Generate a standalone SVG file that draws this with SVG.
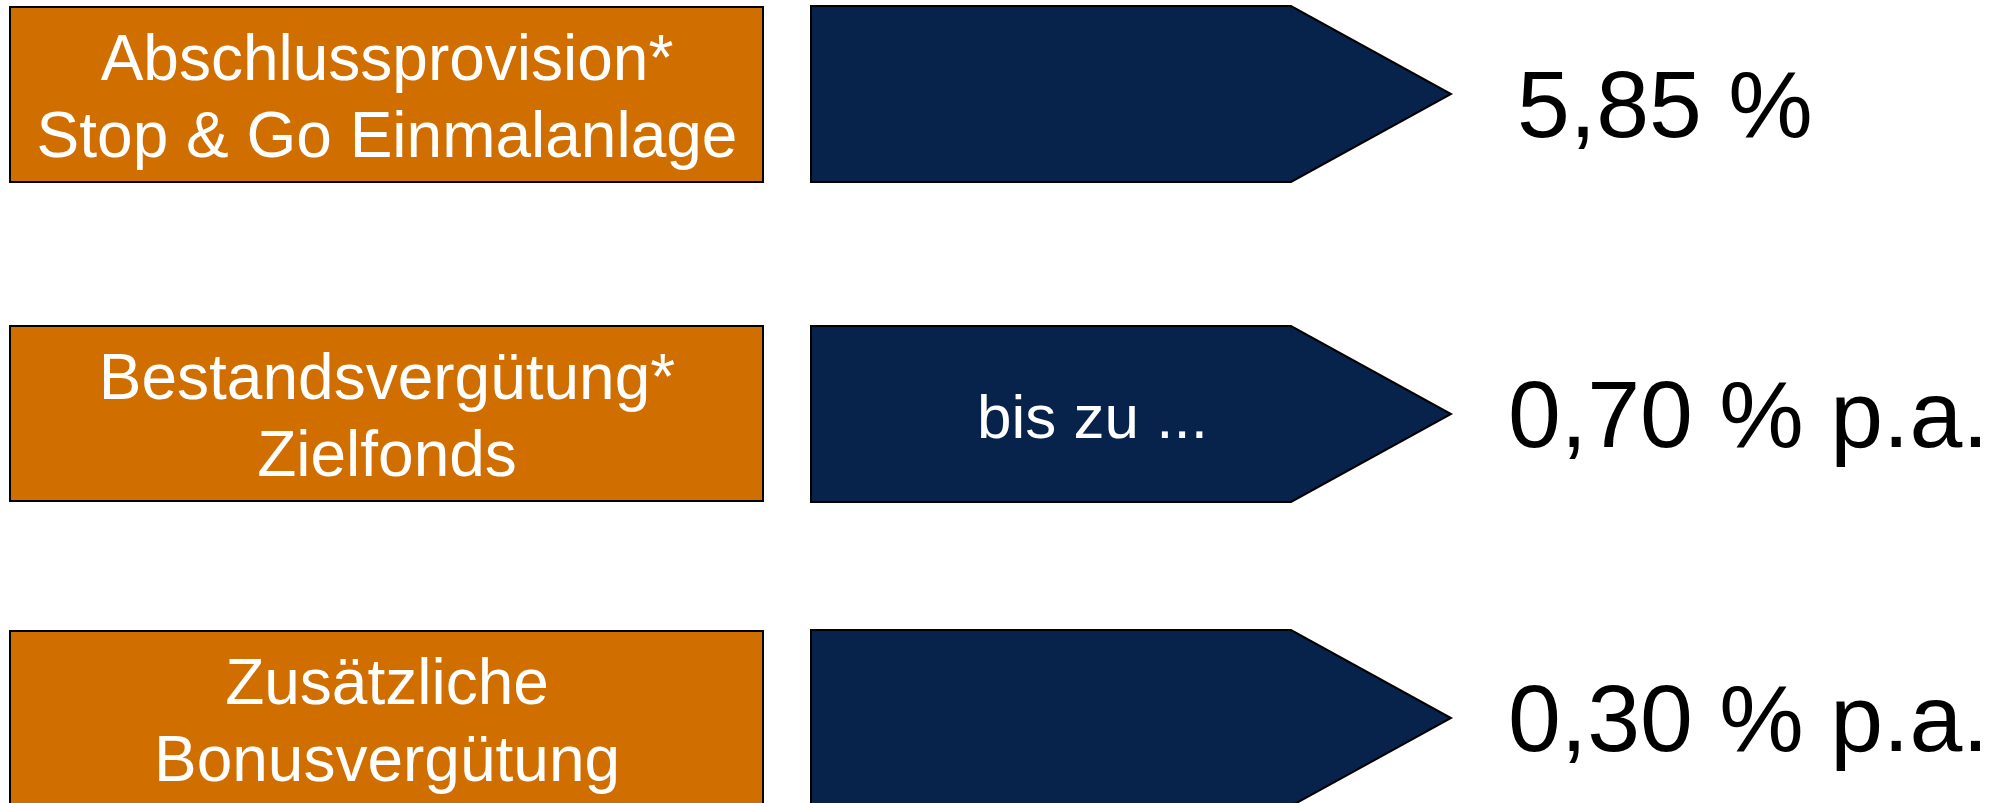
<svg xmlns="http://www.w3.org/2000/svg" width="2011" height="803" viewBox="0 0 2011 803">
<style>
.box{fill:#D06E00;stroke:#000;stroke-width:2}
.arr{fill:#07234B;stroke:#000;stroke-width:2;stroke-linejoin:miter}
.lbl{font-family:"Liberation Sans",Arial,sans-serif;font-size:64px;fill:#fff;text-anchor:middle}
.val{font-family:"Liberation Sans",Arial,sans-serif;font-size:95px;fill:#000}
.inner{font-family:"Liberation Sans",Arial,sans-serif;font-size:62px;fill:#fff}
</style>
<rect width="2011" height="803" fill="#fff"/>
<g id="row1-label">
<rect class="box" x="10" y="7" width="753" height="175"/>
<text class="lbl" x="387" y="80">Abschlussprovision*</text>
<text class="lbl" x="387" y="157">Stop &amp; Go Einmalanlage</text>
</g>
<g id="row2-label">
<rect class="box" x="10" y="326" width="753" height="175"/>
<text class="lbl" x="387" y="399">Bestandsvergütung*</text>
<text class="lbl" x="387" y="476">Zielfonds</text>
</g>
<g id="row3-label">
<rect class="box" x="10" y="631" width="753" height="176"/>
<text class="lbl" x="387" y="704">Zusätzliche</text>
<text class="lbl" x="387" y="781">Bonusvergütung</text>
</g>
<g id="connectors">
<g id="row1-arrow">
<polygon class="arr" points="811,6 1291,6 1451,94 1291,182 811,182"/>
</g>
<g id="row2-arrow">
<polygon class="arr" points="811,326 1291,326 1451,414 1291,502 811,502"/>
<text class="inner" x="977" y="438">bis zu ...</text>
</g>
<g id="row3-arrow">
<polygon class="arr" points="811,630 1291,630 1451,718 1291,806 811,806"/>
</g>
</g>
<g id="row1-value"><text class="val" x="1517" y="137">5,85 %</text></g>
<g id="row2-value"><text class="val" x="1508" y="447">0,70 % p.a.</text></g>
<g id="row3-value"><text class="val" x="1508" y="751">0,30 % p.a.</text></g>
</svg>
